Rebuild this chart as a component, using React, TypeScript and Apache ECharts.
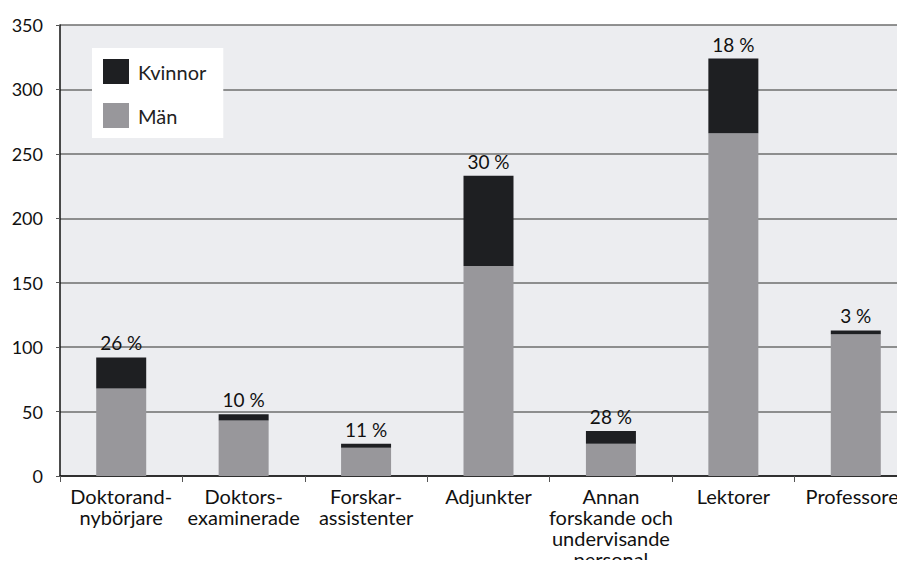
import React, { useEffect, useRef } from "react";
import * as echarts from "echarts";

const categories = [
  "Doktorand-\nnybörjare",
  "Doktors-\nexaminerade",
  "Forskar-\nassistenter",
  "Adjunkter",
  "Annan\nforskande och\nundervisande\npersonal",
  "Lektorer",
  "Professorer",
];
const men = [68, 43, 22, 163, 25, 266, 110];
const women = [24, 5, 3, 70, 10, 58, 3];
const womenShare = ["26 %", "10 %", "11 %", "30 %", "28 %", "18 %", "3 %"];
const yTicks = [0, 50, 100, 150, 200, 250, 300, 350];

const FONT = "Lato, 'DejaVu Sans', sans-serif";

export default function App() {
  const ref = useRef<HTMLDivElement>(null);
  useEffect(() => {
    if (!ref.current) return;
    const chart = echarts.init(ref.current, null, { renderer: "svg" });
    chart.setOption({
      animation: false,
      backgroundColor: "#ffffff",
      textStyle: { fontFamily: FONT },
      grid: {
        left: 60,
        top: 25,
        width: 857,
        height: 451,
        outerBoundsMode: "none",
        containLabel: false,
        show: true,
        backgroundColor: "#ecedf0",
        borderWidth: 0,
      },
      legend: {
        orient: "vertical",
        left: 92,
        top: 48,
        backgroundColor: "#ffffff",
        padding: [11, 17, 10, 11],
        itemWidth: 26,
        itemHeight: 25,
        itemGap: 19,
        icon: "rect",
        textStyle: {
          fontSize: 20,
          color: "#222",
          fontFamily: FONT,
          padding: [0, 0, 0, 4],
        },
        data: ["Kvinnor", "Män"],
      },
      xAxis: {
        type: "category",
        data: categories,
        axisLine: { show: true, lineStyle: { color: "#111", width: 1.5 } },
        axisTick: { show: true, length: 6, lineStyle: { color: "#555" } },
        axisLabel: {
          fontSize: 20,
          color: "#111",
          lineHeight: 21,
          margin: 9,
          interval: 0,
          fontFamily: FONT,
        },
      },
      yAxis: {
        type: "value",
        min: yTicks[0],
        max: yTicks[yTicks.length - 1],
        interval: 50,
        axisLine: { show: true, lineStyle: { color: "#111", width: 1.5 } },
        axisTick: { show: true, length: 4, lineStyle: { color: "#555" } },
        axisLabel: { fontSize: 18, color: "#111", margin: 17, fontFamily: FONT },
        splitLine: { show: true, lineStyle: { color: "#6e6e6e", width: 1.5 } },
      },
      series: [
        {
          name: "Män",
          type: "bar",
          stack: "tot",
          data: men,
          barWidth: 50,
          itemStyle: { color: "#98979b" },
        },
        {
          name: "Kvinnor",
          type: "bar",
          stack: "tot",
          data: women,
          barWidth: 50,
          itemStyle: { color: "#1e1f22" },
          label: {
            show: true,
            position: "top",
            distance: 5,
            fontSize: 19,
            color: "#111",
            fontFamily: FONT,
            formatter: (p: any) => womenShare[p.dataIndex],
          },
        },
      ],
    });
    return () => chart.dispose();
  }, []);
  return <div ref={ref} style={{ width: 905, height: 568, margin: -8 }} />;
}
